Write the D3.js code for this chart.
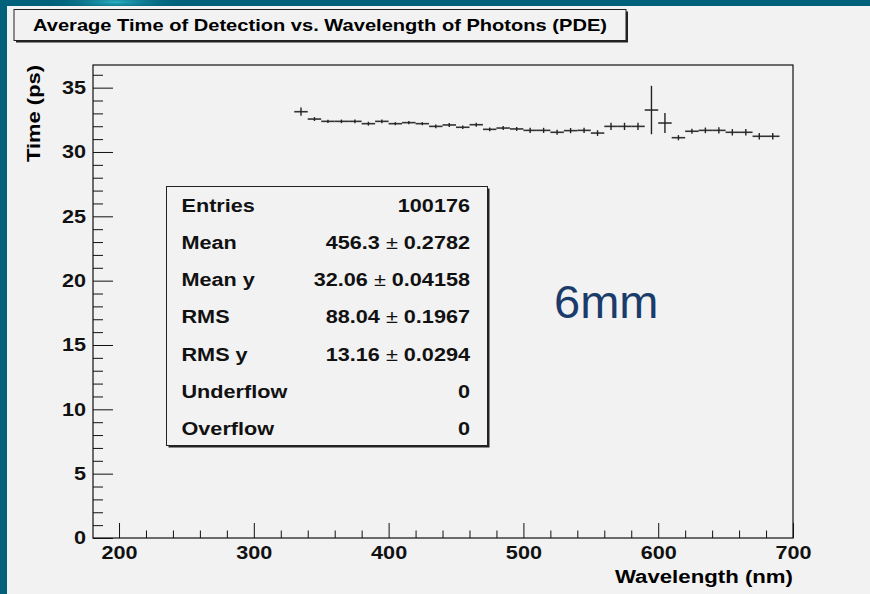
<!DOCTYPE html>
<html>
<head>
<meta charset="utf-8">
<script src="https://cdn.jsdelivr.net/npm/d3@7"></script>
<style>
    body { margin: 0; background: #f2f2f2; }
    svg { display: block; font-family: "Liberation Sans", Arial, sans-serif; }
</style>
</head>
<body>
<div id="chart"></div>
<script>

// bin centres (nm), 10 nm wide bins
let wavelengths = [335, 345, 355, 365, 375, 385, 395, 405, 415, 425, 435, 445,
    455, 465, 475, 485, 495, 505, 515, 525, 535, 545, 555, 565,
    575, 585, 595, 605, 615, 625, 635, 645, 655, 665, 675, 685];
let times = [33.13, 32.56, 32.38, 32.38, 32.38, 32.20, 32.38, 32.20, 32.28, 32.20, 31.99, 32.10,
    31.92, 32.12, 31.76, 31.86, 31.79, 31.68, 31.68, 31.53, 31.66, 31.68, 31.47, 31.99,
    31.99, 31.99, 33.26, 32.25, 31.11, 31.61, 31.68, 31.68, 31.53, 31.53, 31.22, 31.22];
let timeErrors = [0.32, 0.15, 0.12, 0.14, 0.15, 0.15, 0.15, 0.12, 0.12, 0.12, 0.14, 0.15,
    0.14, 0.15, 0.15, 0.15, 0.15, 0.2, 0.2, 0.2, 0.2, 0.2, 0.22, 0.28,
    0.28, 0.28, 1.88, 0.78, 0.2, 0.2, 0.22, 0.25, 0.25, 0.25, 0.25, 0.25];
let binWidth = 10;

let xTicks = [200, 300, 400, 500, 600, 700];
let yTicks = [0, 5, 10, 15, 20, 25, 30, 35];

let statLabels = ["Entries", "Mean", "Mean y", "RMS", "RMS y", "Underflow", "Overflow"];
let statValues = [["100176"], ["456.3", "0.2782"], ["32.06", "0.04158"], ["88.04", "0.1967"],
    ["13.16", "0.0294"], ["0"], ["0"]];

let chartTitle = "Average Time of Detection vs. Wavelength of Photons (PDE)";
let xTitle = "Wavelength (nm)";
let yTitle = "Time (ps)";
let note = "6mm";

// ROOT picture was pasted a bit wider than tall
let sx = 1.17;

let width = 870, height = 594;
let frame = {left: 93, top: 65, right: 793, bottom: 538};

let svg = d3.select("#chart").append("svg")
    .attr("width", width)
    .attr("height", height);

// slide background
let defs = svg.append("defs");
let glow = defs.append("radialGradient").attr("id", "glow");
glow.append("stop").attr("offset", "0%").attr("stop-color", "#2bb0bf");
glow.append("stop").attr("offset", "100%").attr("stop-color", "#00617b").attr("stop-opacity", 0);

svg.append("rect").attr("width", width).attr("height", height).attr("fill", "#00617b");
svg.append("ellipse").attr("cx", 115).attr("cy", 2).attr("rx", 70).attr("ry", 10).attr("fill", "url(#glow)");
svg.append("rect")
    .attr("x", 7).attr("y", 6)
    .attr("width", width - 7).attr("height", height - 6)
    .attr("fill", "#f2f2f2");

// title box
svg.append("rect").attr("x", 16).attr("y", 11.5).attr("width", 612).attr("height", 31).attr("fill", "#222");
svg.append("rect").attr("x", 14).attr("y", 9.5).attr("width", 612).attr("height", 31)
    .attr("fill", "#f2f2f2").attr("stroke", "#222");
svg.append("text")
    .attr("x", 33).attr("y", 31)
    .attr("font-size", 17.3).attr("font-weight", "bold")
    .attr("textLength", 574).attr("lengthAdjust", "spacingAndGlyphs")
    .text(chartTitle);

// scales
let x = d3.scaleLinear().domain([180.7, 700]).range([frame.left, frame.right]);
let y = d3.scaleLinear().domain([0, 36.76]).range([frame.bottom, frame.top]);

// axes (ticks drawn inward like ROOT)
let xMinor = d3.range(200, 701, 20).filter(v => xTicks.indexOf(v) < 0);
let yMinor = d3.range(0, 37, 1).filter(v => yTicks.indexOf(v) < 0);

let xAxisGroup = svg.append("g")
    .attr("class", "axis x-axis")
    .attr("transform", "translate(0," + frame.bottom + ")");
xAxisGroup.append("g")
    .call(d3.axisBottom(x).tickValues(xMinor).tickSizeInner(-7.5).tickSizeOuter(0).tickFormat(""));
xAxisGroup.append("g")
    .call(d3.axisBottom(x).tickValues(xTicks).tickSizeInner(-15).tickSizeOuter(0).tickPadding(8).tickFormat(d3.format("d")));

let yAxisGroup = svg.append("g")
    .attr("class", "axis y-axis")
    .attr("transform", "translate(" + frame.left + ",0)");
yAxisGroup.append("g")
    .call(d3.axisLeft(y).tickValues(yMinor).tickSizeInner(-10).tickSizeOuter(0).tickFormat(""));
yAxisGroup.append("g")
    .call(d3.axisLeft(y).tickValues(yTicks).tickSizeInner(-20).tickSizeOuter(0).tickPadding(6).tickFormat(d3.format("d")));

svg.selectAll(".axis .domain").remove();
svg.selectAll(".axis line").attr("stroke", "#111");
svg.selectAll(".axis text")
    .attr("font-family", "Liberation Sans, Arial, sans-serif")
    .attr("font-size", 18.5)
    .attr("font-weight", "bold")
    .attr("fill", "#111")
    .attr("transform", `scale(${sx},1)`);

// frame
svg.append("rect")
    .attr("x", frame.left).attr("y", frame.top)
    .attr("width", frame.right - frame.left).attr("height", frame.bottom - frame.top)
    .attr("fill", "none").attr("stroke", "#111").attr("stroke-width", 1.2);

// axis titles
svg.append("text")
    .attr("transform", `translate(793,583) scale(${sx},1)`)
    .attr("text-anchor", "end")
    .attr("font-size", 19).attr("font-weight", "bold")
    .text(xTitle);

svg.append("text")
    .attr("transform", "translate(40,65) rotate(-90)")
    .attr("text-anchor", "end")
    .attr("font-size", 17.5).attr("font-weight", "bold")
    .attr("textLength", 97).attr("lengthAdjust", "spacingAndGlyphs")
    .text(yTitle);

// error bar points
let bins = wavelengths.map((w, i) => ({w: w, t: times[i], e: timeErrors[i]}));

let marks = svg.append("g").attr("class", "points")
    .attr("stroke", "#222");

marks.selectAll(".hbar")
    .data(bins)
    .enter().append("line")
    .attr("class", "hbar")
    .attr("x1", d => x(d.w - binWidth / 2))
    .attr("x2", d => x(d.w + binWidth / 2))
    .attr("y1", d => y(d.t))
    .attr("y2", d => y(d.t))
    .attr("stroke-width", 1.6)
    .attr("stroke", "#333");

marks.selectAll(".vbar")
    .data(bins)
    .enter().append("line")
    .attr("class", "vbar")
    .attr("x1", d => x(d.w))
    .attr("x2", d => x(d.w))
    .attr("y1", d => y(d.t - d.e))
    .attr("y2", d => y(d.t + d.e))
    .attr("stroke-width", 1.4);

// stats box
let box = {x: 166.5, y: 186.5, w: 321, h: 259};
svg.append("rect").attr("x", box.x + 2).attr("y", box.y + 2).attr("width", box.w).attr("height", box.h).attr("fill", "#222");
svg.append("rect").attr("x", box.x).attr("y", box.y).attr("width", box.w).attr("height", box.h)
    .attr("fill", "#f2f2f2").attr("stroke", "#222");

let stats = svg.append("g").attr("class", "stats")
    .attr("font-size", 18.5).attr("font-weight", "bold").attr("fill", "#111");

statLabels.forEach((label, i) => {
    let rowY = 211.7 + i * 37.2;
    stats.append("text")
        .attr("transform", `translate(181.5,${rowY}) scale(${sx},1)`)
        .text(label);

    let val = stats.append("text")
        .attr("transform", `translate(470,${rowY}) scale(${sx},1)`)
        .attr("text-anchor", "end");
    let parts = statValues[i];
    val.append("tspan").text(parts[0]);
    if (parts.length > 1) {
        val.append("tspan").attr("font-weight", "normal").text(" \u00b1 ");
        val.append("tspan").text(parts[1]);
    }
});

// annotation
svg.append("text")
    .attr("x", 554).attr("y", 318)
    .attr("font-size", 47)
    .attr("fill", "#1b3c6b")
    .text(note);

</script>
</body>
</html>
